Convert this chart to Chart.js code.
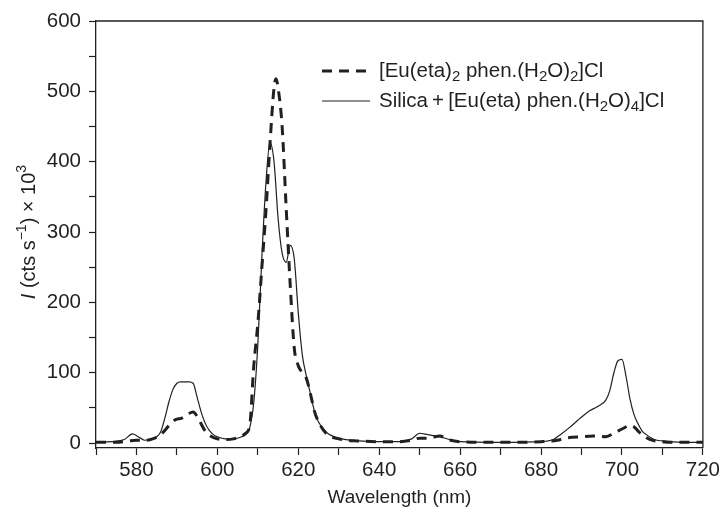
<!DOCTYPE html>
<html>
<head>
<meta charset="utf-8">
<script src="https://cdn.jsdelivr.net/npm/chart.js@4/dist/chart.umd.min.js"></script>
<style>
  html, body { margin: 0; padding: 0; background: #fff; }
</style>
</head>
<body>
<canvas id="myChart" width="723" height="510"></canvas>
<script>
// labels ("_2" = subscript 2)
var labelComplex = '[Eu(eta)_2 phen.(H_2O)_2]Cl';
var labelSilica = 'Silica\u2009+\u2009[Eu(eta) phen.(H_2O)_4]Cl';

// [Eu(eta)2 phen.(H2O)2]Cl  (dashed)
var complexNm = [570, 575, 578, 580, 582, 584, 586, 587, 588, 589, 590, 591, 592, 593, 594, 595, 596, 597, 598, 599,
  600, 602, 604, 606, 607, 608, 609, 610, 611, 612, 613, 614, 614.5, 615, 616, 617, 618, 619, 620, 621, 622, 623, 624,
  625, 627, 630, 635, 640, 645, 648, 650, 652, 655, 657, 660, 670, 680, 684, 686, 690, 693, 696, 698, 700, 702, 703,
  704, 705, 707, 710, 715, 720];
var complexI = [1, 1, 3, 4, 4, 6, 12, 18, 25, 31, 34, 35, 38, 42, 44, 38, 27, 17, 11, 8,
  6, 5, 6, 10, 14, 25, 110, 170, 250, 330, 425, 505, 518, 505, 450, 335, 225, 135, 110, 100, 92, 70, 45,
  30, 13, 6, 3, 2, 2, 4, 7, 7, 10, 5, 2, 1, 2, 4, 7, 9, 10, 9, 14, 20, 25, 23,
  17, 12, 5, 2, 1, 1];

// Silica + [Eu(eta) phen.(H2O)4]Cl  (solid)
var silicaNm = [570, 574, 577, 579, 581, 582, 584, 585, 586, 587, 588, 589, 590, 591, 592, 593, 594, 595, 596, 597,
  598, 599, 600, 602, 604, 606, 607, 608, 609, 610, 611, 612, 613, 614, 615, 616, 617, 618, 619, 620, 621, 622, 623,
  624, 625, 627, 630, 635, 640, 645, 648, 650, 652, 655, 658, 660, 670, 680, 683, 685, 687, 689, 690, 692, 694, 696,
  697, 698, 699, 700, 701, 702, 703, 704, 705, 706, 708, 710, 715, 720];
var silicaI = [1, 2, 5, 13, 7, 4, 6, 9, 16, 35, 58, 76, 85, 87, 87, 87, 85, 65, 44, 28,
  18, 12, 9, 6, 6, 9, 12, 22, 58, 140, 265, 370, 427, 400, 320, 270, 257, 281, 262, 185, 125, 95, 70,
  45, 30, 15, 7, 3, 2, 2, 6, 14, 12, 9, 4, 2, 1, 2, 5, 13, 22, 32, 37, 46, 52, 61,
  75, 100, 117, 119, 95, 62, 40, 27, 17, 12, 5, 3, 1, 1];

var xTickValues = [570, 580, 590, 600, 610, 620, 630, 640, 650, 660, 670, 680, 690, 700, 710, 720];
var yTickValues = [0, 50, 100, 150, 200, 250, 300, 350, 400, 450, 500, 550, 600];

var FONT = '"Liberation Sans", Arial, sans-serif';
var INK = '#231f20';

function toPoints(xs, ys) {
  return xs.map(function (x, i) { return { x: x, y: ys[i] }; });
}

// split "H_2O" into text parts with subscripts
function parseLabel(s) {
  var parts = [];
  var re = /_(\d)/g, last = 0, m;
  while ((m = re.exec(s)) !== null) {
    if (m.index > last) parts.push([s.slice(last, m.index), '']);
    parts.push([m[1], 'sub']);
    last = m.index + m[0].length;
  }
  if (last < s.length) parts.push([s.slice(last), '']);
  return parts;
}

function partFont(k, size) {
  var s = (k === 'sub' || k === 'sup') ? Math.round(size * 0.72) : size;
  return (k === 'it' ? 'italic ' : '') + s + 'px ' + FONT;
}

function richWidth(ctx, parts, size) {
  var w = 0;
  parts.forEach(function (p) {
    ctx.font = partFont(p[1], size);
    w += ctx.measureText(p[0]).width;
  });
  return w;
}

function drawRich(ctx, x, y, parts, size) {
  ctx.textBaseline = 'middle';
  ctx.textAlign = 'left';
  parts.forEach(function (p) {
    var k = p[1];
    var dy = k === 'sub' ? size * 0.3 : (k === 'sup' ? -size * 0.36 : 0);
    ctx.font = partFont(k, size);
    ctx.fillText(p[0], x, y + dy);
    x += ctx.measureText(p[0]).width;
  });
}

// box, legend and y title
var extras = {
  id: 'extras',
  afterDraw: function (chart) {
    var ctx = chart.ctx, a = chart.chartArea;
    ctx.save();
    ctx.strokeStyle = INK;
    ctx.lineWidth = 1.3;
    ctx.beginPath();
    ctx.moveTo(a.left, a.top);
    ctx.lineTo(a.right, a.top);
    ctx.lineTo(a.right, a.bottom);
    ctx.stroke();

    ctx.fillStyle = INK;
    // legend
    var rows = [
      { parts: parseLabel(labelComplex), dash: [10, 7], width: 3, y: 71 },
      { parts: parseLabel(labelSilica), dash: [], width: 1.2, y: 101 }
    ];
    rows.forEach(function (r) {
      ctx.setLineDash(r.dash);
      ctx.lineWidth = r.width;
      ctx.beginPath();
      ctx.moveTo(322, r.y);
      ctx.lineTo(370, r.y);
      ctx.stroke();
      ctx.setLineDash([]);
      drawRich(ctx, 379, r.y, r.parts, 20.5);
    });

    // y axis title
    var yParts = [['I', 'it'], [' (cts s', ''], ['\u22121', 'sup'], [') \u00d7 10', ''], ['3', 'sup']];
    var w = richWidth(ctx, yParts, 20);
    ctx.translate(29, (a.top + chart.scales.y.getPixelForValue(0)) / 2);
    ctx.rotate(-Math.PI / 2);
    drawRich(ctx, -w / 2, 0, yParts, 20);
    ctx.restore();
  }
};

var ctx = document.getElementById('myChart').getContext('2d');
var chart = new Chart(ctx, {
  type: 'line',
  data: {
    datasets: [
      {
        label: labelComplex,
        data: toPoints(complexNm, complexI),
        borderColor: INK,
        borderWidth: 3,
        borderDash: [10, 7],
        cubicInterpolationMode: 'monotone',
        pointRadius: 0,
        fill: false
      },
      {
        label: labelSilica,
        data: toPoints(silicaNm, silicaI),
        borderColor: INK,
        borderWidth: 1.2,
        cubicInterpolationMode: 'monotone',
        pointRadius: 0,
        fill: false
      }
    ]
  },
  options: {
    responsive: false,
    animation: false,
    layout: { padding: { top: 21, right: 18, left: 0, bottom: 0 } },
    plugins: { legend: { display: false }, tooltip: { enabled: false } },
    scales: {
      x: {
        type: 'linear',
        min: 570,
        max: 720,
        afterBuildTicks: function (s) { s.ticks = xTickValues.map(function (v) { return { value: v }; }); },
        afterFit: function (s) { s.height = 62; },
        ticks: {
          autoSkip: false,
          maxRotation: 0,
          padding: 3,
          color: INK,
          font: { family: FONT, size: 20.5 },
          callback: function (v) { return v % 20 === 0 ? String(v) : ''; }
        },
        grid: { drawOnChartArea: false, tickLength: 7, tickColor: INK, tickWidth: 1.2 },
        border: { color: INK, width: 1.3 },
        title: {
          display: true,
          text: 'Wavelength (nm)',
          color: INK,
          font: { family: FONT, size: 19 },
          padding: { top: 0, bottom: 1 }
        }
      },
      y: {
        min: -7,
        max: 600,
        afterBuildTicks: function (s) { s.ticks = yTickValues.map(function (v) { return { value: v }; }); },
        afterFit: function (s) { s.width = 96; },
        ticks: {
          padding: 8,
          color: INK,
          font: { family: FONT, size: 20.5 },
          callback: function (v) { return v % 100 === 0 ? String(v) : ''; }
        },
        grid: { drawOnChartArea: false, tickLength: 7, tickColor: INK, tickWidth: 1.2 },
        border: { color: INK, width: 1.3 }
      }
    }
  },
  plugins: [extras]
});
</script>
</body>
</html>
